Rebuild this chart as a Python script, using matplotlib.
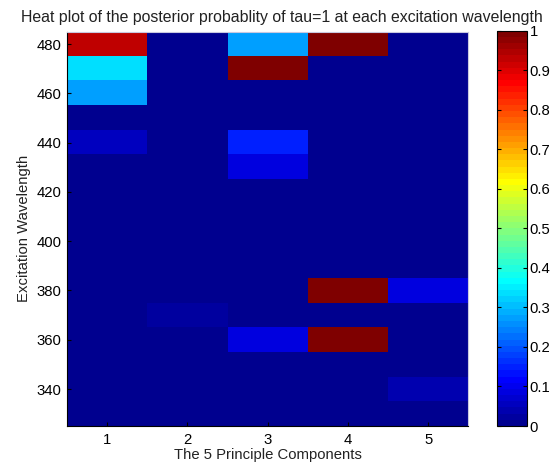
import numpy as np
import matplotlib
matplotlib.use("Agg")
import matplotlib.pyplot as plt
from matplotlib.colors import ListedColormap

plt.rcParams['font.family'] = ['Liberation Sans', 'DejaVu Sans']

# ---- data ----
wavelengths = [330, 340, 350, 360, 370, 380, 390, 400, 410, 420, 430, 440, 450, 460, 470, 480]
components = [1, 2, 3, 4, 5]
comp1 = [0, 0, 0, 0, 0, 0, 0, 0, 0, 0, 0, 0.055, 0, 0.28, 0.336, 0.93]
comp2 = [0, 0, 0, 0, 0.023, 0, 0, 0, 0, 0, 0, 0, 0, 0, 0, 0]
comp3 = [0, 0, 0, 0.086, 0, 0, 0, 0, 0, 0, 0.086, 0.148, 0, 0, 1.0, 0.28]
comp4 = [0, 0, 0, 1.0, 0, 1.0, 0, 0, 0, 0, 0, 0, 0, 0, 0, 1.0]
comp5 = [0, 0.04, 0, 0, 0, 0.086, 0, 0, 0, 0, 0, 0, 0, 0, 0, 0]
y_ticks = [340, 360, 380, 400, 420, 440, 460, 480]
cbar_ticks = [0, 0.1, 0.2, 0.3, 0.4, 0.5, 0.6, 0.7, 0.8, 0.9, 1]
cbar_labels = ['0', '0.1', '0.2', '0.3', '0.4', '0.5', '0.6', '0.7', '0.8', '0.9', '1']

title = 'Heat plot of the posterior probablity of tau=1 at each excitation wavelength'
xlabel = 'The 5 Principle Components'
ylabel = 'Excitation Wavelength'

# ---- MATLAB jet(64) colormap ----
n, m = 64, 16
u = np.concatenate([np.arange(1, m + 1) / m, np.ones(m - 1), np.arange(m, 0, -1) / m])
g = (m // 2) + np.arange(len(u))  # 0-based
J = np.zeros((n, 3))
for ch, idxs in ((0, g + m), (1, g), (2, g - m)):
    for idx, val in zip(idxs, u):
        if 0 <= idx < n:
            J[idx, ch] = val
jet64 = ListedColormap(J)

data = np.array([comp1, comp2, comp3, comp4, comp5]).T  # rows: wavelengths, cols: components

FS = 10.7
fig = plt.figure(figsize=(5.57, 4.70), dpi=100)
ax = fig.add_axes([0.1198, 0.0936, 0.721, 0.839])
dy = wavelengths[1] - wavelengths[0]
dx = components[1] - components[0]
im = ax.imshow(data, cmap=jet64, vmin=0, vmax=1, origin='lower', aspect='auto',
               interpolation='nearest',
               extent=[components[0] - dx / 2, components[-1] + dx / 2,
                       wavelengths[0] - dy / 2, wavelengths[-1] + dy / 2])

ax.set_xticks(components)
ax.set_yticks(y_ticks)
ax.tick_params(axis='both', direction='in', length=3, width=0.8, labelsize=FS,
               colors='black')
ax.tick_params(axis='x', pad=5)
ax.tick_params(axis='y', pad=4)
for s in ('left', 'bottom'):
    ax.spines[s].set_color('black')
    ax.spines[s].set_linewidth(0.8)
for s in ('top', 'right'):
    ax.spines[s].set_color('#c8c8e0')
    ax.spines[s].set_linewidth(0.8)

ax.set_title(title, fontsize=11.4, pad=7, x=0.536, color='#222222')
ax.set_xlabel(xlabel, fontsize=FS, labelpad=1, color='#222222')
ax.set_ylabel(ylabel, fontsize=FS, labelpad=4, color='#222222')

cax = fig.add_axes([0.8917, 0.0936, 0.0539, 0.841])
cb = fig.colorbar(im, cax=cax, ticks=cbar_ticks)
cb.ax.set_yticklabels(cbar_labels)
cb.ax.tick_params(axis='y', direction='in', left=True, right=True, length=3,
                  width=0.8, labelsize=FS, pad=2)
cb.outline.set_linewidth(0.8)
cb.outline.set_edgecolor('black')

fig.savefig('out.png', dpi=100)
